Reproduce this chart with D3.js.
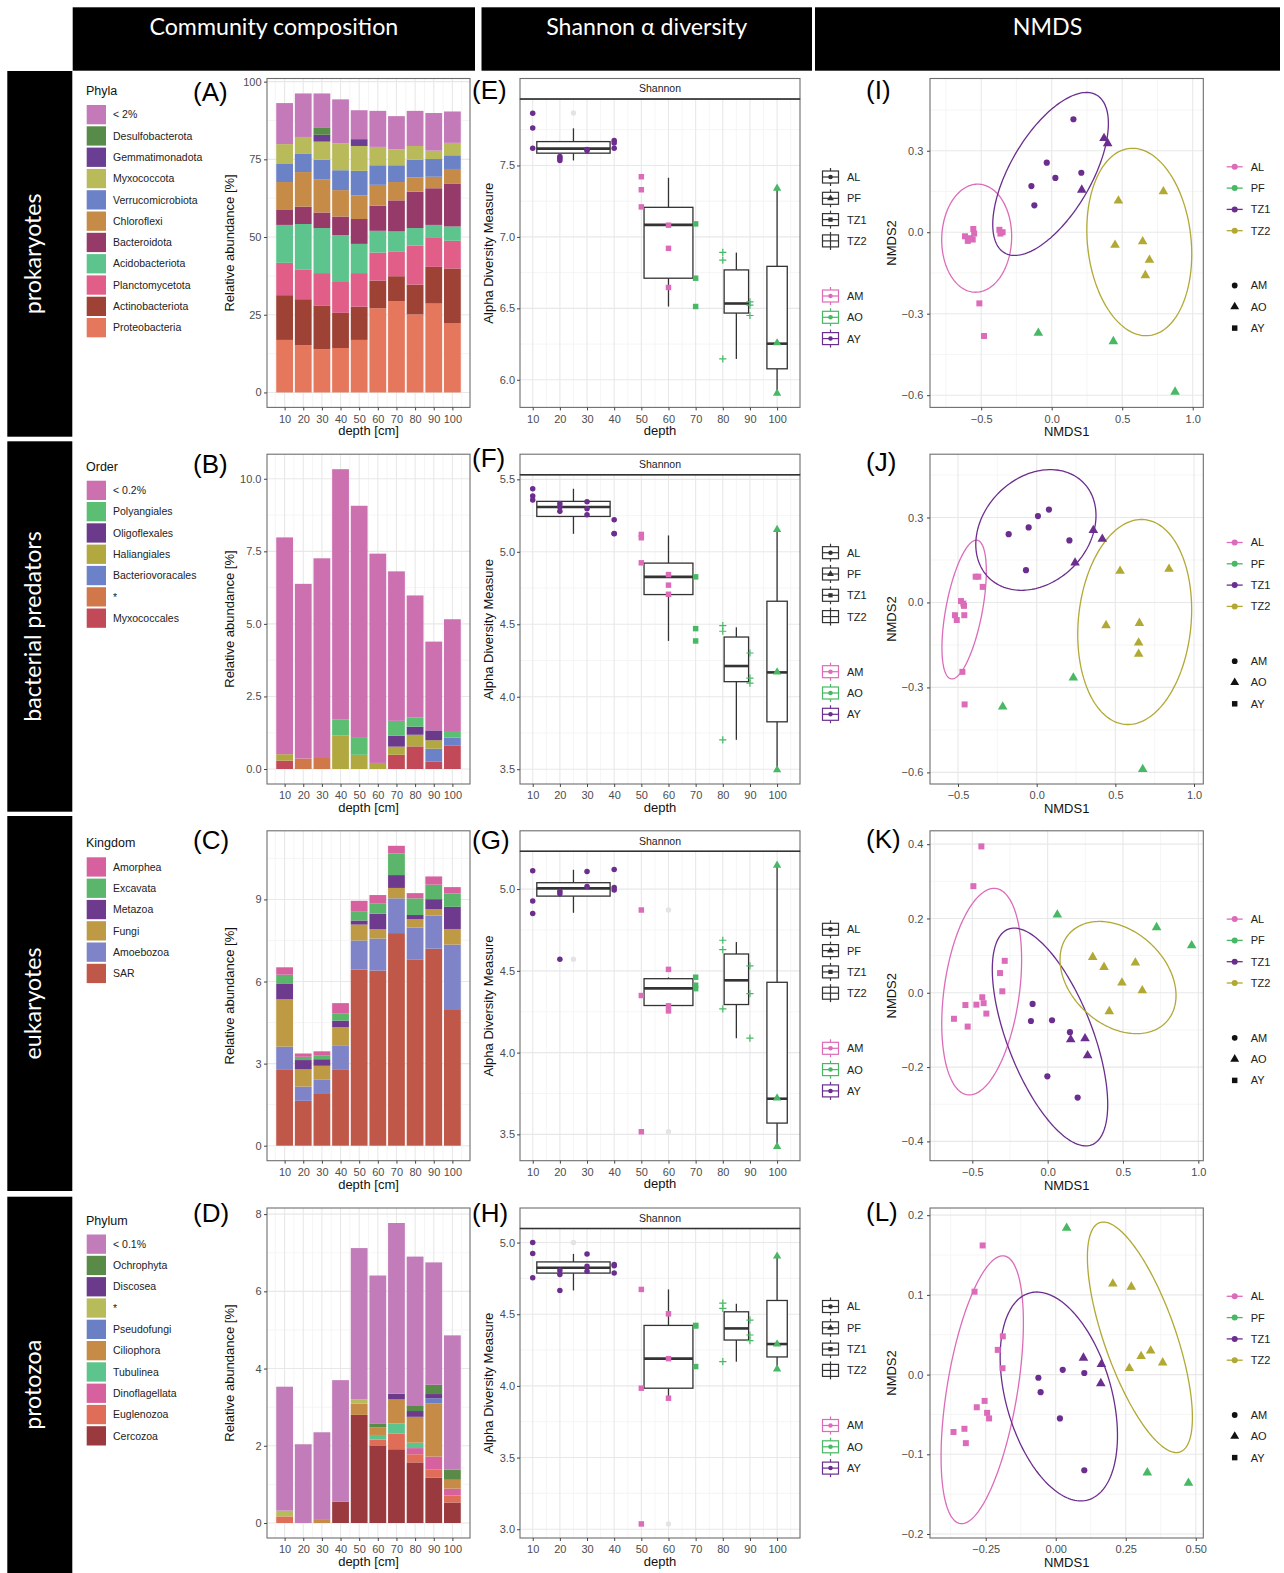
<!DOCTYPE html>
<html><head><meta charset="utf-8">
<script src="https://cdn.jsdelivr.net/npm/d3@7"></script>
<style>body{margin:0;background:#fff}</style>
</head><body>
<svg id="fig" width="1284" height="1573"></svg>
<script>
// ================= DATA =================
const depths = [10,20,30,40,50,60,70,80,90,100];

// (A) prokaryotes – legend order (top of stack first)
const phylaNames = ["< 2%","Desulfobacterota","Gemmatimonadota","Myxococcota","Verrucomicrobiota","Chloroflexi","Bacteroidota","Acidobacteriota","Planctomycetota","Actinobacteriota","Proteobacteria"];
const phylaColors = ["#c47ab8","#588a49","#6a3f93","#b9bb5b","#6b82c6","#c68b47","#953a69","#5dc48d","#e05e88","#9e4236","#e5775d"];
const phylaValues = [
  [13.2,14.0,11.1,14.2,9.3,11.6,10.7,11.3,12.1,10.1],
  [0,0,2.2,0,0,0,0,0,0,0],
  [0,0,2.2,0,2.2,0,0,0,0,0],
  [6.4,5.3,5.8,8.6,8.0,5.9,5.1,4.4,2.7,4.0],
  [5.8,6.0,6.3,6.4,7.9,6.3,5.4,5.7,5.7,4.4],
  [8.8,11.1,10.7,8.5,7.6,6.7,5.9,4.6,3.7,4.8],
  [5.0,5.6,5.0,6.0,8.0,8.1,10.0,11.7,11.8,13.7],
  [12.2,14.6,14.5,14.8,9.4,7.0,6.4,5.7,4.2,4.6],
  [10.4,9.6,10.4,10.2,10.8,9.0,8.0,12.5,9.3,8.9],
  [14.4,14.8,14.1,11.3,10.7,8.9,8.1,9.6,11.8,17.7],
  [16.9,15.2,13.9,14.3,16.9,27.1,29.3,25.1,28.6,22.2]
];
const phylaTicks = [0,25,50,75,100];
const phylaTickLabels = ["0","25","50","75","100"];

// (B) bacterial predators
const orderNames = ["< 0.2%","Polyangiales","Oligoflexales","Haliangiales","Bacteriovoracales","*","Myxococcales"];
const orderColors = ["#cd70b0","#5bbe72","#6b3a8a","#b2a840","#6b82c8","#d0784a","#c24a58"];
const orderValues = [
  [7.47,6.02,6.88,8.63,7.97,7.21,5.15,4.21,3.06,3.85],
  [0,0,0,0.55,0.61,0,0.51,0.31,0,0.23],
  [0,0,0,0,0,0,0.38,0.28,0.34,0],
  [0.22,0,0,1.15,0.49,0.21,0.28,0.40,0.29,0],
  [0,0,0,0,0,0,0,0,0.45,0.28],
  [0,0.36,0.38,0,0,0,0,0,0,0],
  [0.29,0,0,0,0,0,0.49,0.78,0.25,0.80]
];
const orderTicks = [0,2.5,5,7.5,10];
const orderTickLabels = ["0.0","2.5","5.0","7.5","10.0"];

// (C) eukaryotes
const kingdomNames = ["Amorphea","Excavata","Metazoa","Fungi","Amoebozoa","SAR"];
const kingdomColors = ["#d6619e","#5bb56a","#6e3a8e","#bd9a43","#7f84c8","#c0584a"];
const kingdomValues = [
  [0.27,0.12,0.16,0.37,0.40,0.30,0.28,0.19,0.30,0.23],
  [0.32,0.12,0.13,0.27,0.32,0.38,0.79,0.61,0.53,0.49],
  [0.58,0.34,0.24,0.24,0.15,0.57,0.47,0.15,0.36,0.81],
  [1.73,0.63,0.51,0.66,0.58,0.34,0.38,0.31,0.24,0.57],
  [0.85,0.52,0.52,0.90,1.06,1.17,1.27,1.16,1.21,2.36],
  [2.77,1.64,1.89,2.77,6.44,6.40,7.77,6.81,7.20,4.99]
];
const kingdomTicks = [0,3,6,9];
const kingdomTickLabels = ["0","3","6","9"];

// (D) protozoa
const phylumNames = ["< 0.1%","Ochrophyta","Discosea","*","Pseudofungi","Ciliophora","Tubulinea","Dinoflagellata","Euglenozoa","Cercozoa"];
const phylumColors = ["#c27cb9","#5a8a48","#6b3a8a","#b8bb5a","#6b80c4","#c68b47","#5dc48d","#d6619e","#e06d58","#9a3a3e"];
const phylumValues = [
  [3.21,2.04,2.25,3.15,3.92,3.83,4.42,3.87,3.17,3.48],
  [0,0,0,0,0,0.10,0,0.13,0.24,0.26],
  [0,0,0,0,0,0,0.15,0.15,0.11,0],
  [0.15,0,0,0,0.11,0,0,0,0,0],
  [0,0,0,0,0,0,0,0,0.13,0],
  [0,0,0.10,0,0.29,0.20,0.62,0.67,1.38,0.23],
  [0,0,0,0,0,0.12,0.26,0.14,0,0],
  [0,0,0,0,0,0,0,0.16,0.34,0.18],
  [0.17,0,0,0,0,0.15,0.41,0.21,0.21,0.18],
  [0,0,0,0.55,2.80,2.01,1.91,1.57,1.17,0.53]
];
const phylumTicks = [0,2,4,6,8];
const phylumTickLabels = ["0","2","4","6","8"];

// Shannon alpha diversity: [depth, value]
const siteDepths = {AL:[10,20,30,40], TZ1:[50,60,70], TZ2:[80,90], PF:[100]};
const siteOrder = ["AL","PF","TZ1","TZ2"];
const ageOrder = ["AM","AO","AY"];
const ageByDepth = {10:"AY",20:"AY",30:"AY",40:"AY",50:"AM",60:"AM",70:"AO",80:"AO",90:"AO",100:"AO"};
const siteByDepth = {10:"AL",20:"AL",30:"AL",40:"AL",50:"TZ1",60:"TZ1",70:"TZ1",80:"TZ2",90:"TZ2",100:"PF"};

const shannonE = [[10,7.865],[10,7.762],[10,7.621],[20,7.563],[20,7.551],[20,7.535],[30,7.604],[30,7.612],[40,7.674],[40,7.658],[40,7.621],[50,7.421],[50,7.33],[50,7.21],[60,7.082],[60,6.92],[60,6.646],[70,7.091],[70,6.711],[70,6.513],[80,6.892],[80,6.838],[80,6.146],[90,6.546],[90,6.523],[90,6.45],[100,7.34],[100,6.258],[100,5.905]];
const shannonF = [[10,5.435],[10,5.385],[10,5.357],[20,5.332],[20,5.279],[20,5.31],[30,5.346],[30,5.297],[30,5.256],[40,5.221],[40,5.127],[40,5.125],[50,5.12],[50,5.097],[50,4.924],[60,4.843],[60,4.77],[60,4.707],[70,4.827],[70,4.47],[70,4.385],[80,4.491],[80,4.452],[80,3.703],[90,4.302],[90,4.129],[90,4.094],[100,5.154],[100,4.17],[100,3.495]];
const shannonG = [[10,5.112],[10,4.927],[10,4.851],[20,4.986],[20,4.972],[20,4.571],[30,5.108],[30,5.016],[40,5.12],[40,5.01],[40,4.994],[50,4.872],[50,4.349],[50,3.516],[60,4.509],[60,4.286],[60,4.255],[70,4.461],[70,4.412],[70,4.391],[80,4.687],[80,4.63],[80,4.267],[90,4.53],[90,4.361],[90,4.088],[100,5.145],[100,3.722],[100,3.425]];
const shannonH = [[10,5.0],[10,4.923],[10,4.754],[20,4.805],[20,4.777],[20,4.666],[30,4.921],[30,4.835],[30,4.8],[40,4.847],[40,4.838],[40,4.787],[50,4.673],[50,3.984],[50,3.037],[60,4.503],[60,4.19],[60,3.914],[70,4.422],[70,4.418],[70,4.135],[80,4.578],[80,4.541],[80,4.169],[90,4.459],[90,4.355],[90,4.316],[100,4.905],[100,4.292],[100,4.118]];

// box stats: [site, lower whisker, q1, median, q3, upper whisker]
const boxE = [["AL",7.535,7.586,7.618,7.667,7.76],["TZ1",6.513,6.711,7.084,7.207,7.414],["TZ2",6.146,6.467,6.534,6.769,6.89],["PF",5.905,6.077,6.253,6.794,7.34]];
const boxF = [["AL",5.124,5.244,5.309,5.348,5.435],["TZ1",4.385,4.705,4.827,4.922,5.113],["TZ2",3.703,4.104,4.212,4.412,4.479],["PF",3.495,3.827,4.168,4.659,5.154]];
const boxG = [["AL",4.855,4.957,5.004,5.039,5.118],["TZ1",4.255,4.288,4.393,4.452,4.46],["TZ2",4.088,4.294,4.442,4.603,4.676],["PF",3.425,3.569,3.718,4.43,5.145]];
const boxH = [["AL",4.666,4.787,4.824,4.865,4.921],["TZ1",3.914,3.984,4.19,4.422,4.673],["TZ2",4.169,4.32,4.401,4.517,4.573],["PF",4.118,4.202,4.292,4.596,4.905]];
const outE = [["AL",7.867]];
const outF = [];
const outG = [["AL",4.571],["TZ1",4.872],["TZ1",3.516]];
const outH = [["AL",5.0],["TZ1",3.037]];
const ticksE = [6.0,6.5,7.0,7.5], ticksF = [3.5,4.0,4.5,5.0,5.5], ticksG = [3.5,4.0,4.5,5.0], ticksH = [3.0,3.5,4.0,4.5,5.0];

// NMDS: [NMDS1, NMDS2, site, age]
const nmdsI = [
 [-0.615,-0.015,"AL","AY"],[-0.595,-0.032,"AL","AY"],[-0.575,-0.022,"AL","AY"],[-0.556,0.012,"AL","AY"],[-0.55,-0.005,"AL","AY"],[-0.56,-0.027,"AL","AY"],
 [-0.371,0.009,"AL","AY"],[-0.348,0.0,"AL","AY"],[-0.364,-0.005,"AL","AY"],[-0.513,-0.262,"AL","AY"],[-0.48,-0.382,"AL","AY"],
 [0.154,0.416,"TZ1","AM"],[-0.035,0.256,"TZ1","AM"],[0.026,0.2,"TZ1","AM"],[-0.144,0.17,"TZ1","AM"],[-0.123,0.099,"TZ1","AM"],[0.21,0.219,"TZ1","AM"],
 [0.371,0.346,"TZ1","AO"],[0.397,0.327,"TZ1","AO"],[0.213,0.156,"TZ1","AO"],
 [0.473,0.116,"TZ2","AO"],[0.792,0.15,"TZ2","AO"],[0.449,-0.047,"TZ2","AO"],[0.645,-0.034,"TZ2","AO"],[0.693,-0.102,"TZ2","AO"],[0.664,-0.159,"TZ2","AO"],
 [-0.095,-0.371,"PF","AO"],[0.437,-0.402,"PF","AO"],[0.875,-0.588,"PF","AO"]];
const nmdsJ = [
 [-0.178,0.241,"TZ1","AM"],[-0.051,0.265,"TZ1","AM"],[0.008,0.305,"TZ1","AM"],[0.078,0.328,"TZ1","AM"],[0.208,0.219,"TZ1","AM"],[-0.068,0.114,"TZ1","AM"],
 [0.36,0.255,"TZ1","AO"],[0.417,0.224,"TZ1","AO"],[0.244,0.14,"TZ1","AO"],
 [-0.388,0.091,"AL","AY"],[-0.371,0.091,"AL","AY"],[-0.343,0.055,"AL","AY"],[-0.481,0.005,"AL","AY"],[-0.466,-0.004,"AL","AY"],[-0.462,-0.012,"AL","AY"],
 [-0.519,-0.045,"AL","AY"],[-0.508,-0.062,"AL","AY"],[-0.46,-0.045,"AL","AY"],[-0.472,-0.245,"AL","AY"],[-0.458,-0.36,"AL","AY"],
 [0.53,0.111,"TZ2","AO"],[0.841,0.118,"TZ2","AO"],[0.441,-0.081,"TZ2","AO"],[0.653,-0.073,"TZ2","AO"],[0.648,-0.142,"TZ2","AO"],[0.648,-0.182,"TZ2","AO"],
 [0.233,-0.266,"PF","AO"],[-0.216,-0.368,"PF","AO"],[0.674,-0.589,"PF","AO"]];
const nmdsK = [
 [-0.44,0.394,"AL","AY"],[-0.493,0.287,"AL","AY"],[-0.285,0.086,"AL","AY"],[-0.316,0.053,"AL","AY"],[-0.301,0.004,"AL","AY"],[-0.434,-0.012,"AL","AY"],
 [-0.425,-0.028,"AL","AY"],[-0.473,-0.032,"AL","AY"],[-0.546,-0.033,"AL","AY"],[-0.407,-0.056,"AL","AY"],[-0.622,-0.07,"AL","AY"],[-0.531,-0.091,"AL","AY"],
 [-0.1,-0.03,"TZ1","AM"],[-0.111,-0.076,"TZ1","AM"],[0.029,-0.074,"TZ1","AM"],[0.148,-0.106,"TZ1","AM"],[-0.002,-0.225,"TZ1","AM"],[0.199,-0.282,"TZ1","AM"],
 [0.153,-0.126,"TZ1","AO"],[0.248,-0.123,"TZ1","AO"],[0.265,-0.169,"TZ1","AO"],
 [0.299,0.096,"TZ2","AO"],[0.374,0.069,"TZ2","AO"],[0.582,0.081,"TZ2","AO"],[0.493,0.027,"TZ2","AO"],[0.628,0.006,"TZ2","AO"],[0.409,-0.05,"TZ2","AO"],
 [0.064,0.21,"PF","AO"],[0.723,0.176,"PF","AO"],[0.956,0.127,"PF","AO"]];
const nmdsL = [
 [-0.261,0.162,"AL","AY"],[-0.29,0.104,"AL","AY"],[-0.189,0.048,"AL","AY"],[-0.207,0.031,"AL","AY"],[-0.19,0.008,"AL","AY"],[-0.254,-0.033,"AL","AY"],
 [-0.282,-0.041,"AL","AY"],[-0.245,-0.048,"AL","AY"],[-0.238,-0.055,"AL","AY"],[-0.365,-0.072,"AL","AY"],[-0.326,-0.068,"AL","AY"],[-0.321,-0.086,"AL","AY"],
 [-0.062,-0.004,"TZ1","AM"],[-0.054,-0.022,"TZ1","AM"],[0.025,0.006,"TZ1","AM"],[0.102,0.002,"TZ1","AM"],[0.015,-0.055,"TZ1","AM"],[0.102,-0.12,"TZ1","AM"],
 [0.099,0.021,"TZ1","AO"],[0.163,0.013,"TZ1","AO"],[0.161,-0.011,"TZ1","AO"],
 [0.204,0.114,"TZ2","AO"],[0.27,0.11,"TZ2","AO"],[0.263,0.008,"TZ2","AO"],[0.305,0.023,"TZ2","AO"],[0.339,0.03,"TZ2","AO"],[0.382,0.015,"TZ2","AO"],
 [0.039,0.184,"PF","AO"],[0.327,-0.123,"PF","AO"],[0.474,-0.136,"PF","AO"]];
// ellipses: [site, cx, cy, rx, ry, correlation]
const ellI = [["AL",-0.532,-0.022,0.248,0.199,0.03],["TZ1",-0.008,0.2145,0.41,0.300,0.62],["TZ2",0.621,-0.036,0.372,0.345,-0.13]];
const ellJ = [["AL",-0.461,-0.025,0.141,0.245,0.55],["TZ1",-0.005,0.256,0.382,0.213,0.24],["TZ2",0.623,-0.069,0.362,0.362,0.12]];
const ellK = [["AL",-0.438,0.003,0.265,0.278,0.31],["TZ1",0.0155,-0.119,0.383,0.293,-0.62],["TZ2",0.467,0.041,0.385,0.151,-0.32]];
const ellL = [["AL",-0.2625,-0.019,0.147,0.168,0.5],["TZ1",0.011,-0.0274,0.2095,0.131,-0.375],["TZ2",0.3006,0.0468,0.1875,0.1446,-0.695]];
const nmdsXTicks = [-0.5,0,0.5,1.0], nmdsXLabels = ["\u22120.5","0.0","0.5","1.0"];
const nmdsLXTicks = [-0.25,0,0.25,0.5], nmdsLXLabels = ["\u22120.25","0.00","0.25","0.50"];
const nmdsIJYTicks = [-0.6,-0.3,0,0.3], nmdsIJYLabels = ["\u22120.6","\u22120.3","0.0","0.3"];
const nmdsKYTicks = [-0.4,-0.2,0,0.2,0.4], nmdsKYLabels = ["\u22120.4","\u22120.2","0.0","0.2","0.4"];
const nmdsLYTicks = [-0.2,-0.1,0,0.1,0.2], nmdsLYLabels = ["\u22120.2","\u22120.1","0.0","0.1","0.2"];

const siteColors = {AL:"#dc6cb9", PF:"#47b864", TZ1:"#6b2e8e", TZ2:"#b2a834"};
const ageColors = {AM:"#dc6cb9", AO:"#47b864", AY:"#6b2e8e"};
const siteShapeBox = {AL:"circle", PF:"triangle", TZ1:"square", TZ2:"plus"};
const ageShapeNmds = {AM:"circle", AO:"triangle", AY:"square"};

// ================= LAYOUT / STYLE =================
const FONT = '"Liberation Sans", Arial, Helvetica, sans-serif';
const HFONT = 'Lato, "Open Sans", sans-serif';
const rowTop = [78.5, 454.2, 830.8, 1208], rowBot = [407.4, 784, 1160.7, 1538];
const GMAJ = "#e8e8e8", GMIN = "#f4f4f4", BORDER = "#6e6e6e", TICKTXT = "#4d4d4d";
const svg = d3.select("#fig");
svg.append("rect").attr("width",1284).attr("height",1573).attr("fill","#fff");

function minors(maj, dom){
  const s = maj[1]-maj[0], out=[];
  for (let v = maj[0]-s/2; v <= maj[maj.length-1]+s/2+1e-9; v += s) if (v>=Math.min(...dom) && v<=Math.max(...dom)) out.push(v);
  return out;
}
function grid(g, x, y, xMaj, yMaj, x0, x1, y0, y1){
  g.append("rect").attr("x",x0).attr("y",y0).attr("width",x1-x0).attr("height",y1-y0).attr("fill","#fff");
  const gl = g.append("g").attr("stroke-width",0.9);
  minors(xMaj, x.domain()).forEach(v=>gl.append("line").attr("x1",x(v)).attr("x2",x(v)).attr("y1",y0).attr("y2",y1).attr("stroke",GMIN));
  minors(yMaj, y.domain()).forEach(v=>gl.append("line").attr("y1",y(v)).attr("y2",y(v)).attr("x1",x0).attr("x2",x1).attr("stroke",GMIN));
  xMaj.forEach(v=>gl.append("line").attr("x1",x(v)).attr("x2",x(v)).attr("y1",y0).attr("y2",y1).attr("stroke",GMAJ).attr("stroke-width",1.1));
  yMaj.forEach(v=>gl.append("line").attr("y1",y(v)).attr("y2",y(v)).attr("x1",x0).attr("x2",x1).attr("stroke",GMAJ).attr("stroke-width",1.1));
}
function frame(g, x0, x1, y0, y1){
  g.append("rect").attr("x",x0).attr("y",y0).attr("width",x1-x0).attr("height",y1-y0).attr("fill","none").attr("stroke",BORDER).attr("stroke-width",1.1);
}
function styleAxis(a){
  a.attr("font-family",FONT).attr("font-size",11);
  a.select(".domain").remove();
  a.selectAll("line").attr("stroke","#444");
  a.selectAll("text").attr("fill",TICKTXT);
}
function axes(g, x, y, x0, y1, xT, xL, yT, yL, ypad){
  g.append("g").attr("transform",`translate(0,${y1})`)
   .call(d3.axisBottom(x).tickValues(xT).tickFormat((d,i)=>xL[i]).tickSize(3).tickPadding(4.5)).call(styleAxis);
  g.append("g").attr("transform",`translate(${x0},0)`)
   .call(d3.axisLeft(y).tickValues(yT).tickFormat((d,i)=>yL[i]).tickSize(3).tickPadding(ypad)).call(styleAxis);
}
function title(g, txt, x, y, rot){
  g.append("text").attr("transform",`translate(${x},${y})${rot?" rotate(-90)":""}`).attr("text-anchor","middle")
   .attr("font-family",FONT).attr("font-size",13).attr("fill","#111").text(txt);
}
function shapePath(shape, size){
  if (shape==="plus"){ const a=size; return `M${-a},0H${a}M0,${-a}V${a}`; }
  const t = shape==="circle"?d3.symbolCircle: shape==="triangle"?d3.symbolTriangle: d3.symbolSquare;
  return d3.symbol().type(t).size(size)();
}

// ================= COLUMN 1: stacked bars =================
function barPanel(row, names, colors, values, yT, yL, legTitle){
  const top=rowTop[row], bot=rowBot[row], x0=267, x1=470, bw=9;
  const g = svg.append("g");
  const keys = names.slice().reverse();
  const rows = depths.map((d,i)=>{const o={depth:d}; names.forEach((n,k)=>o[n]=values[k][i]); return o;});
  const series = d3.stack().keys(keys)(rows);
  const M = d3.max(rows, r=>d3.sum(names, n=>r[n]));
  const lo = d3.min(depths)-bw/2, hi = d3.max(depths)+bw/2, e=(hi-lo)*0.05;
  const x = d3.scaleLinear().domain([lo-e, hi+e]).range([x0,x1]);
  const y = d3.scaleLinear().domain([-0.05*M, 1.05*M]).range([bot, top]);
  grid(g, x, y, depths, yT, x0, x1, top, bot);
  series.forEach(layer=>{
    const col = colors[names.indexOf(layer.key)];
    g.append("g").selectAll("rect").data(layer.filter(s=>s[1]-s[0]>0)).join("rect")
      .attr("x", s=>x(s.data.depth-bw/2)).attr("width", s=>x(s.data.depth+bw/2)-x(s.data.depth-bw/2))
      .attr("y", s=>y(s[1])).attr("height", s=>y(s[0])-y(s[1])).attr("fill", col);
  });
  frame(g, x0, x1, top, bot);
  axes(g, x, y, x0, bot, depths, depths.map(String), yT, yL, 2.5);
  title(g, "depth [cm]", (x0+x1)/2, bot+28);
  title(g, "Relative abundance [%]", 234, (top+bot)/2, true);
  // legend
  const lg = g.append("g");
  const kTop = top + 26.5;
  lg.append("text").attr("x",86).attr("y",kTop-10).attr("font-family",FONT).attr("font-size",12.5).attr("fill","#111").text(legTitle);
  names.forEach((n,i)=>{
    lg.append("rect").attr("x",86.7).attr("y",kTop+i*21.3).attr("width",19.3).attr("height",19.3).attr("fill",colors[i]);
    lg.append("text").attr("x",113).attr("y",kTop+i*21.3+9.65).attr("dy","0.35em").attr("font-family",FONT).attr("font-size",10.5).attr("fill","#222").text(n);
  });
}
barPanel(0, phylaNames, phylaColors, phylaValues, phylaTicks, phylaTickLabels, "Phyla");
barPanel(1, orderNames, orderColors, orderValues, orderTicks, orderTickLabels, "Order");
barPanel(2, kingdomNames, kingdomColors, kingdomValues, kingdomTicks, kingdomTickLabels, "Kingdom");
barPanel(3, phylumNames, phylumColors, phylumValues, phylumTicks, phylumTickLabels, "Phylum");

// ================= COLUMN 2: Shannon boxplots =================
function boxPanel(row, pts, boxes, outl, yT){
  const sTop=rowTop[row], sH=20.5, top=sTop+sH, bot=rowBot[row], x0=520, x1=800;
  const g = svg.append("g");
  const info = {};
  Object.keys(siteDepths).forEach(s=>{
    const ds = siteDepths[s];
    info[s] = {c: d3.mean(ds), w: ds.length>1 ? 0.9*(d3.max(ds)-d3.min(ds)) : 7.5};
  });
  const xs = pts.map(p=>p[0]).concat(Object.values(info).flatMap(o=>[o.c-o.w/2, o.c+o.w/2]));
  const ys = pts.map(p=>p[1]).concat(boxes.flatMap(b=>b.slice(1))).concat(outl.map(o=>o[1]));
  const [xl,xh] = d3.extent(xs), [yl,yh] = d3.extent(ys);
  const x = d3.scaleLinear().domain([xl-(xh-xl)*0.05, xh+(xh-xl)*0.05]).range([x0,x1]);
  const y = d3.scaleLinear().domain([yl-(yh-yl)*0.05, yh+(yh-yl)*0.05]).range([bot, top]);
  grid(g, x, y, depths, yT, x0, x1, top, bot);
  boxes.forEach(b=>{
    const [s, lw, q1, md, q3, uw] = b, o = info[s], cx = x(o.c);
    const bx = g.append("g").attr("stroke","#333").attr("stroke-width",1.3);
    bx.append("line").attr("x1",cx).attr("x2",cx).attr("y1",y(uw)).attr("y2",y(q3));
    bx.append("line").attr("x1",cx).attr("x2",cx).attr("y1",y(q1)).attr("y2",y(lw));
    bx.append("rect").attr("x",x(o.c-o.w/2)).attr("width",x(o.c+o.w/2)-x(o.c-o.w/2)).attr("y",y(q3)).attr("height",y(q1)-y(q3)).attr("fill","#fff");
    bx.append("line").attr("x1",x(o.c-o.w/2)).attr("x2",x(o.c+o.w/2)).attr("y1",y(md)).attr("y2",y(md)).attr("stroke-width",2.6);
  });
  outl.forEach(o=>g.append("circle").attr("cx",x(info[o[0]].c)).attr("cy",y(o[1])).attr("r",2.7).attr("fill","#e4e4e4"));
  pts.forEach(p=>{
    const site = siteByDepth[p[0]], col = ageColors[ageByDepth[p[0]]], sh = siteShapeBox[site];
    const pth = g.append("path").attr("transform",`translate(${x(p[0])},${y(p[1])})`);
    if (sh==="plus") pth.attr("d",shapePath("plus",3.6)).attr("stroke",col).attr("stroke-width",1.2).attr("fill","none");
    else pth.attr("d",shapePath(sh, sh==="circle"?24:30)).attr("fill",col);
  });
  frame(g, x0, x1, top, bot);
  // strip
  g.append("rect").attr("x",x0).attr("y",sTop).attr("width",x1-x0).attr("height",sH).attr("fill","#fff").attr("stroke",BORDER).attr("stroke-width",1.1);
  g.append("line").attr("x1",x0).attr("x2",x1).attr("y1",top).attr("y2",top).attr("stroke","#333").attr("stroke-width",1.6);
  g.append("text").attr("x",(x0+x1)/2).attr("y",sTop+sH/2).attr("dy","0.35em").attr("text-anchor","middle").attr("font-family",FONT).attr("font-size",10.5).attr("fill","#222").text("Shannon");
  axes(g, x, y, x0, bot, depths, depths.map(String), yT, yT.map(v=>v.toFixed(1)), 2);
  title(g, "depth", (x0+x1)/2, bot+27.5);
  title(g, "Alpha Diversity Measure", 492.5, (top+bot)/2, true);
  // legend
  const lg = g.append("g").attr("font-family",FONT).attr("font-size",11);
  const gx = 830.5;
  function key(yc, col, sh){
    const k = lg.append("g").attr("stroke",col).attr("stroke-width",1.2).attr("fill","none");
    k.append("line").attr("x1",gx).attr("x2",gx).attr("y1",yc-9).attr("y2",yc+9);
    k.append("rect").attr("x",gx-8).attr("y",yc-6).attr("width",16).attr("height",12).attr("fill","#fff");
    k.append("line").attr("x1",gx-8).attr("x2",gx+8).attr("y1",yc).attr("y2",yc);
    if (sh==="plus") k.append("line").attr("x1",gx).attr("x2",gx).attr("y1",yc-6).attr("y2",yc+6);
    else lg.append("path").attr("transform",`translate(${gx},${yc})`).attr("d",shapePath(sh, sh==="circle"?16:sh==="square"?18:20)).attr("fill",col);
  }
  siteOrder.forEach((s,i)=>{ const yc = sTop+98.5+i*21.3; key(yc, "#333", siteShapeBox[s]);
    lg.append("text").attr("x",847).attr("y",yc).attr("dy","0.36em").attr("fill","#222").text(s); });
  ageOrder.forEach((a,i)=>{ const yc = sTop+217.5+i*21.3; key(yc, ageColors[a], "circle");
    lg.append("text").attr("x",847).attr("y",yc).attr("dy","0.36em").attr("fill","#222").text(a); });
}
boxPanel(0, shannonE, boxE, outE, ticksE);
boxPanel(1, shannonF, boxF, outF, ticksF);
boxPanel(2, shannonG, boxG, outG, ticksG);
boxPanel(3, shannonH, boxH, outH, ticksH);

// ================= COLUMN 3: NMDS =================
function nmdsPanel(row, pts, ells, xdom, ydom, xT, xL, yT, yL){
  const top=rowTop[row], bot=rowBot[row], x0=930, x1=1203.3;
  const g = svg.append("g");
  const x = d3.scaleLinear().domain(xdom).range([x0,x1]);
  const y = d3.scaleLinear().domain(ydom).range([bot,top]);
  grid(g, x, y, xT, yT, x0, x1, top, bot);
  const ts = d3.range(0, 2*Math.PI+0.001, Math.PI/90);
  const line = d3.line().x(d=>x(d[0])).y(d=>y(d[1]));
  ells.forEach(e=>{
    const [s, cx, cy, rx, ry, rho] = e, phi = Math.acos(rho);
    const path = ts.map(t=>[cx+rx*Math.cos(t), cy+ry*Math.cos(t-phi)]);
    g.append("path").attr("d",line(path)).attr("fill","none").attr("stroke",siteColors[s]).attr("stroke-width",1.3);
  });
  pts.forEach(p=>{
    const sh = ageShapeNmds[p[3]];
    g.append("path").attr("transform",`translate(${x(p[0])},${y(p[1])})`).attr("d",shapePath(sh, sh==="circle"?30:sh==="square"?36:40)).attr("fill",siteColors[p[2]]);
  });
  frame(g, x0, x1, top, bot);
  axes(g, x, y, x0, bot, xT, xL, yT, yL, 3.7);
  title(g, "NMDS1", (x0+x1)/2, bot+29);
  title(g, "NMDS2", 895.5, (top+bot)/2, true);
  const lg = g.append("g").attr("font-family",FONT).attr("font-size",11);
  siteOrder.forEach((s,i)=>{ const yc = top+88.3+i*21.3;
    lg.append("line").attr("x1",1226.7).attr("x2",1242.7).attr("y1",yc).attr("y2",yc).attr("stroke",siteColors[s]).attr("stroke-width",1.3);
    lg.append("circle").attr("cx",1234.7).attr("cy",yc).attr("r",3).attr("fill",siteColors[s]);
    lg.append("text").attr("x",1250.7).attr("y",yc).attr("dy","0.36em").attr("fill","#222").text(s); });
  ageOrder.forEach((a,i)=>{ const yc = top+207+i*21.3, sh = ageShapeNmds[a];
    lg.append("path").attr("transform",`translate(${1234.7},${yc})`).attr("d",shapePath(sh, sh==="circle"?26:sh==="square"?30:34)).attr("fill","#111");
    lg.append("text").attr("x",1250.7).attr("y",yc).attr("dy","0.36em").attr("fill","#222").text(a); });
}
nmdsPanel(0, nmdsI, ellI, [-0.863,1.075], [-0.645,0.566], nmdsXTicks, nmdsXLabels, nmdsIJYTicks, nmdsIJYLabels);
nmdsPanel(1, nmdsJ, ellJ, [-0.678,1.059], [-0.641,0.5235], nmdsXTicks, nmdsXLabels, nmdsIJYTicks, nmdsIJYLabels);
nmdsPanel(2, nmdsK, ellK, [-0.781,1.033], [-0.452,0.436], nmdsXTicks, nmdsXLabels, nmdsKYTicks, nmdsKYLabels);
nmdsPanel(3, nmdsL, ellL, [-0.449,0.527], [-0.205,0.209], nmdsLXTicks, nmdsLXLabels, nmdsLYTicks, nmdsLYLabels);

// ================= HEADERS / ROW LABELS / PANEL LETTERS =================
const probe = svg.append("text").attr("font-family",HFONT).attr("font-size",25).text("prokaryotes");
const hSize = 25*121/probe.node().getComputedTextLength(); probe.remove();
const headers = [["Community composition",72.7,475],["Shannon \u03b1 diversity",481.5,812],["NMDS",815,1280]];
headers.forEach(h=>{
  svg.append("rect").attr("x",h[1]).attr("y",7.3).attr("width",h[2]-h[1]).attr("height",63.4).attr("fill","#000");
  svg.append("text").attr("x",(h[1]+h[2])/2).attr("y",34.5).attr("text-anchor","middle").attr("font-family",HFONT).attr("font-size",hSize).attr("fill","#fff").text(h[0]);
});
const rowNames = [["prokaryotes",71,436.7],["bacterial predators",441.3,811.7],["eukaryotes",816,1191],["protozoa",1196.7,1573]];
rowNames.forEach(r=>{
  svg.append("rect").attr("x",7.3).attr("y",r[1]).attr("width",65).attr("height",r[2]-r[1]).attr("fill","#000");
  svg.append("text").attr("transform",`translate(32,${(r[1]+r[2])/2}) rotate(-90)`).attr("text-anchor","middle").attr("dominant-baseline","central")
    .attr("font-family",HFONT).attr("font-size",hSize).attr("fill","#fff").text(r[0]);
});
const letters = [["(A)",193,101],["(B)",193,473],["(C)",193,849],["(D)",193,1222],
                 ["(E)",472,99],["(F)",472,467],["(G)",472,849],["(H)",472,1222],
                 ["(I)",866,99],["(J)",866,471],["(K)",866,848],["(L)",866,1221]];
letters.forEach(l=>svg.append("text").attr("x",l[1]).attr("y",l[2]).attr("font-family",FONT).attr("font-size",26).attr("fill","#000").text(l[0]));
</script>
</body></html>
